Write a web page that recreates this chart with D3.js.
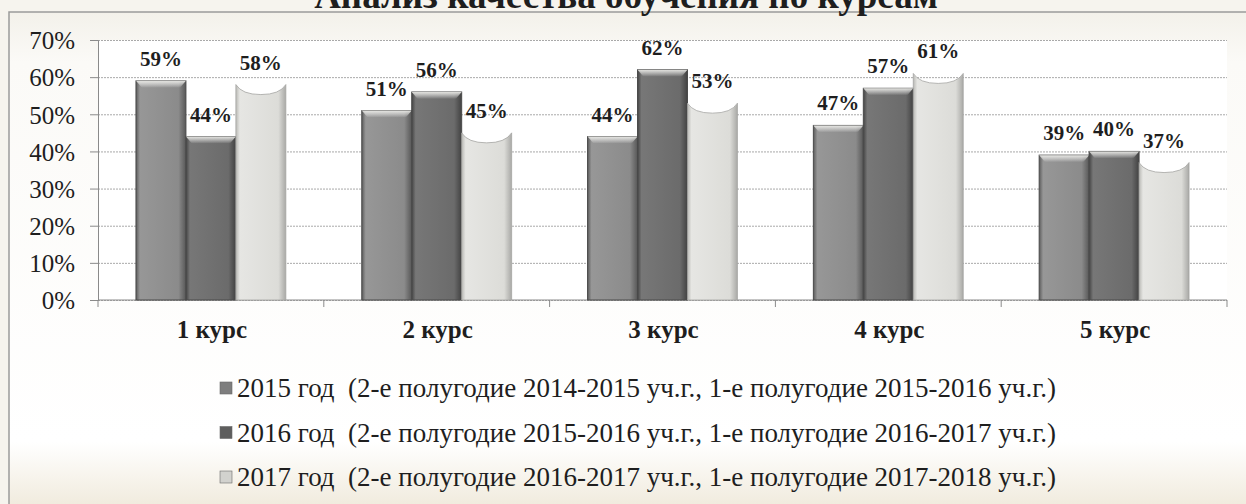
<!DOCTYPE html>
<html lang="ru">
<head>
<meta charset="UTF-8">
<title>Анализ качества обучения по курсам</title>
<script src="https://cdn.jsdelivr.net/npm/d3@7"></script>
<style>
    body { margin: 0; background: #fff; }
    svg text { font-family: "Liberation Serif", "Times New Roman", serif; fill: #1e1e1e; white-space: pre; }
    .grid line { stroke: #a9a9a9; stroke-dasharray: 2 1; }
    .grid path { display: none; }
</style>
</head>
<body>
<svg id="chart" width="1246" height="504"></svg>
<script>

// data
var courses = ["1 курс", "2 курс", "3 курс", "4 курс", "5 курс"];
var seriesNames = [
    "2015 год  (2-е полугодие 2014-2015 уч.г., 1-е полугодие 2015-2016 уч.г.)",
    "2016 год  (2-е полугодие 2015-2016 уч.г., 1-е полугодие 2016-2017 уч.г.)",
    "2017 год  (2-е полугодие 2016-2017 уч.г., 1-е полугодие 2017-2018 уч.г.)"
];
var values2015 = [0.59, 0.51, 0.44, 0.47, 0.39];
var values2016 = [0.44, 0.56, 0.62, 0.57, 0.40];
var values2017 = [0.58, 0.45, 0.53, 0.61, 0.37];
var yTicks = [0, 0.1, 0.2, 0.3, 0.4, 0.5, 0.6, 0.7];

var allValues = [values2015, values2016, values2017];

var svg = d3.select("#chart");
var defs = svg.append("defs");

// background: beige paper, white plot region
var bg = defs.append("linearGradient").attr("id", "bgGrad")
    .attr("x1", 0).attr("y1", 0).attr("x2", 0).attr("y2", 1);
bg.append("stop").attr("offset", "0").attr("stop-color", "#f3f1ea");
bg.append("stop").attr("offset", "0.1").attr("stop-color", "#fbfaf7");
bg.append("stop").attr("offset", "0.86").attr("stop-color", "#ffffff");
bg.append("stop").attr("offset", "1").attr("stop-color", "#efe9da");

svg.append("rect").attr("x", 0).attr("y", 0).attr("width", 1246).attr("height", 504).attr("fill", "#f6f4ee");
svg.append("rect").attr("x", 9).attr("y", 12).attr("width", 1240).attr("height", 500)
    .attr("fill", "url(#bgGrad)").attr("stroke", "#9a9a9a").attr("stroke-width", 1.5);

// title (cut off at top like the scan)
svg.append("text")
    .attr("x", 626).attr("y", 8)
    .attr("text-anchor", "middle")
    .style("font-size", "37px").style("font-weight", "bold")
    .text("Анализ качества обучения по курсам");

var plotLeft = 98, plotRight = 1227, plotTop = 40, plotBottom = 300;

var y = d3.scaleLinear().domain([0, 0.7]).range([plotBottom, plotTop]);
var x0 = d3.scaleBand().domain(courses).range([plotLeft, plotRight]).padding(0);
var x1 = d3.scaleBand().domain([0, 1, 2]).range([0, x0.bandwidth()])
    .paddingInner(0).paddingOuter(0.76);

svg.append("rect").attr("x", plotLeft).attr("y", plotTop)
    .attr("width", plotRight - plotLeft).attr("height", plotBottom - plotTop)
    .attr("fill", "#ffffff");

// gridlines
svg.append("g").attr("class", "grid")
    .attr("transform", "translate(" + plotLeft + ",0)")
    .call(d3.axisLeft(y).tickValues(yTicks).tickSize(-(plotRight - plotLeft)).tickFormat(""));

// y axis
var yAxis = svg.append("g").attr("transform", "translate(" + plotLeft + ",0)")
    .call(d3.axisLeft(y).tickValues(yTicks).tickSize(8).tickPadding(15).tickFormat(d3.format(".0%")));
yAxis.selectAll("text").style("font-size", "25px").attr("dy", "0.35em");
yAxis.selectAll("line").attr("stroke", "#8a8a8a");
yAxis.select(".domain").attr("stroke", "#8a8a8a");

// x axis line + ticks at category edges
svg.append("line").attr("x1", plotLeft).attr("x2", plotRight)
    .attr("y1", plotBottom).attr("y2", plotBottom)
    .attr("stroke", "#8a8a8a");
var edges = courses.map(function (c) { return x0(c); }).concat([plotRight]);
svg.selectAll(".xtick").data(edges).enter().append("line")
    .attr("x1", function (d) { return d; }).attr("x2", function (d) { return d; })
    .attr("y1", plotBottom).attr("y2", plotBottom + 7)
    .attr("stroke", "#8a8a8a");

svg.selectAll(".xlabel").data(courses).enter().append("text")
    .attr("x", function (d) { return x0(d) + x0.bandwidth() / 2 + 1; })
    .attr("y", 338)
    .attr("text-anchor", "middle")
    .style("font-size", "25px").style("font-weight", "bold")
    .text(function (d) { return d; });

// bar fills: horizontal shading to fake the 3D bevel
var barColors = [
    ["#5c5c5c", "#979797", "#8b8b8b", "#585858"],
    ["#454545", "#777777", "#6b6b6b", "#424242"],
    ["#b9b9b5", "#e6e6e3", "#dcdcd8", "#a9a9a6"]
];
barColors.forEach(function (c, i) {
    var g = defs.append("linearGradient").attr("id", "bar" + i)
        .attr("x1", 0).attr("y1", 0).attr("x2", 1).attr("y2", 0);
    g.append("stop").attr("offset", "0").attr("stop-color", c[0]);
    g.append("stop").attr("offset", "0.08").attr("stop-color", c[1]);
    g.append("stop").attr("offset", "0.85").attr("stop-color", c[2]);
    g.append("stop").attr("offset", "1").attr("stop-color", c[3]);
});
var bevel = defs.append("linearGradient").attr("id", "bevel")
    .attr("x1", 0).attr("y1", 0).attr("x2", 0).attr("y2", 1);
bevel.append("stop").attr("offset", "0").attr("stop-color", "#f2f2ee").attr("stop-opacity", 0.9);
bevel.append("stop").attr("offset", "1").attr("stop-color", "#ffffff").attr("stop-opacity", 0);

var bw = x1.bandwidth();

allValues.forEach(function (vals, s) {
    var g = svg.append("g").attr("class", "series" + s);
    vals.forEach(function (v, i) {
        var bx = x0(courses[i]) + x1(s);
        var by = y(v);
        if (s === 2) {
            // light series: concave top
            g.append("path")
                .attr("d", "M" + bx + "," + plotBottom + "V" + by +
                    "Q" + (bx + 6) + "," + (by + 10) + " " + (bx + bw / 2) + "," + (by + 10) +
                    "Q" + (bx + bw - 6) + "," + (by + 10) + " " + (bx + bw) + "," + by +
                    "V" + plotBottom + "Z")
                .attr("fill", "url(#bar2)").attr("stroke", "#a5a5a2").attr("stroke-width", 0.8);
        } else {
            g.append("rect").attr("x", bx).attr("y", by).attr("width", bw).attr("height", plotBottom - by)
                .attr("fill", "url(#bar" + s + ")").attr("stroke", "#4a4a4a").attr("stroke-width", 1);
            g.append("path")
                .attr("d", "M" + bx + "," + by + "H" + (bx + bw) + "L" + (bx + bw - 6) + "," + (by + 7) +
                    "H" + (bx + 6) + "Z")
                .attr("fill", "url(#bevel)");
        }
        g.append("text")
            .attr("x", bx + bw / 2)
            .attr("y", by - 15)
            .attr("text-anchor", "middle")
            .style("font-size", "21px").style("font-weight", "bold")
            .text(d3.format(".0%")(v));
    });
});

// legend
var legendColors = ["#7e7e7e", "#5e5e5e", "#d2d2ce"];
var legend = svg.selectAll(".legend").data(seriesNames).enter().append("g")
    .attr("transform", function (d, i) { return "translate(220," + (397 + i * 44.5) + ")"; });
legend.append("rect").attr("x", 0).attr("y", -15).attr("width", 12).attr("height", 12)
    .attr("fill", function (d, i) { return legendColors[i]; })
    .attr("stroke", "#6a6a6a").attr("stroke-width", 0.6);
legend.append("text").attr("x", 17).attr("y", 0)
    .style("font-size", "27px")
    .text(function (d) { return d; });

</script>
</body>
</html>
